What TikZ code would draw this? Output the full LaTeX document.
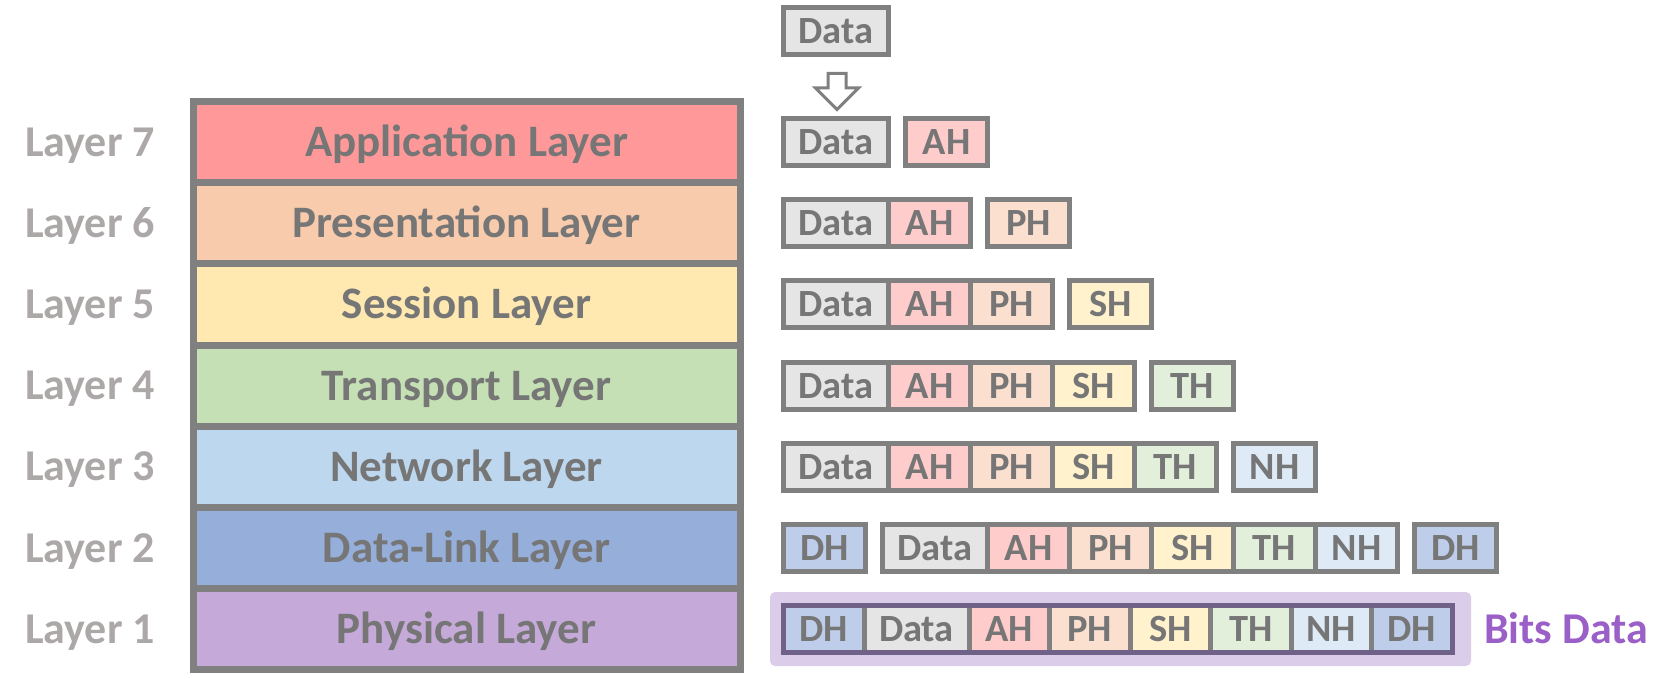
\documentclass[tikz,border=0pt]{standalone}
\usepackage{fontspec}
\setmainfont{Carlito}
\usetikzlibrary{shapes.arrows}
\definecolor{linegray}{RGB}{128,128,128}
\definecolor{txtgray}{RGB}{118,118,118}
\definecolor{lblgray}{RGB}{172,168,168}
\definecolor{cApp}{RGB}{255,153,153}
\definecolor{cPres}{RGB}{247,203,172}
\definecolor{cSess}{RGB}{255,233,176}
\definecolor{cTrans}{RGB}{197,224,180}
\definecolor{cNet}{RGB}{189,215,238}
\definecolor{cDL}{RGB}{150,174,218}
\definecolor{cPhys}{RGB}{197,169,216}
\definecolor{cData}{RGB}{229,229,229}
\definecolor{cAH}{RGB}{255,204,204}
\definecolor{cPH}{RGB}{251,224,208}
\definecolor{cSH}{RGB}{255,242,204}
\definecolor{cTH}{RGB}{226,239,218}
\definecolor{cNH}{RGB}{222,235,247}
\definecolor{cDH}{RGB}{190,205,234}
\definecolor{hlfill}{RGB}{219,205,233}
\definecolor{rowpurple}{RGB}{112,97,136}
\definecolor{bitspurple}{RGB}{155,95,200}
\begin{document}
\begin{tikzpicture}[x=1pt,y=-1pt,
  layer/.style={draw=linegray, line width=7pt, minimum width=547pt, minimum height=81.2pt,
    inner sep=0pt, text=txtgray, font=\fontsize{45}{50}\selectfont\bfseries, text height=29pt, text depth=0pt},
  lbl/.style={text=lblgray, font=\fontsize{44}{50}\selectfont\bfseries, inner sep=0pt, text height=28.3pt, text depth=0pt},
  pk/.style={draw=linegray, line width=5pt, minimum height=47pt, inner sep=0pt, outer sep=0pt, text=txtgray,
    font=\fontsize{38.5}{42}\selectfont\bfseries, anchor=west, text height=24.8pt, text depth=0pt},
  hd/.style={pk, minimum width=82pt},
  dt/.style={pk, minimum width=105pt, fill=cData},
  ah/.style={hd, fill=cAH}, ph/.style={hd, fill=cPH}, sh/.style={hd, fill=cSH},
  th/.style={hd, fill=cTH}, nh/.style={hd, fill=cNH}, dh/.style={hd, fill=cDH},
  narrow/.style={minimum width=80.5pt},
]
\useasboundingbox (0,0) rectangle (1672,679);

% OSI stack
\node[layer, fill=cApp]   (L7) at (466.5,142.0) {Application Layer};
\node[layer, fill=cPres]  (L6) at (466.5,223.2) {Presentation Layer};
\node[layer, fill=cSess]  (L5) at (466.5,304.4) {Session Layer};
\node[layer, fill=cTrans] (L4) at (466.5,385.6) {Transport Layer};
\node[layer, fill=cNet]   (L3) at (466.5,466.8) {Network Layer};
\node[layer, fill=cDL]    (L2) at (466.5,548.0) {Data-Link Layer};
\node[layer, fill=cPhys]  (L1) at (466.5,629.2) {Physical Layer};

\node[lbl] (n7) at (90,142.0) {Layer 7};
\node[lbl] (n6) at (90,223.2) {Layer 6};
\node[lbl] (n5) at (90,304.4) {Layer 5};
\node[lbl] (n4) at (90,385.6) {Layer 4};
\node[lbl] (n3) at (90,466.8) {Layer 3};
\node[lbl] (n2) at (90,548.0) {Layer 2};
\node[lbl] (n1) at (90,629.2) {Layer 1};

% top data and arrow
\node[dt] (d0) at (783.5,31) {Data};
\node[single arrow, draw=linegray, fill=white, line width=3pt, rotate=-90,
  minimum height=36pt, inner sep=7.5pt, single arrow head extend=12.5pt] (arr) at (837,87) {};

% row 7
\node[dt] (d7) at (783.5,142.0) {Data};
\node[ah] (a7) at ([xshift=17pt]d7.east) {AH};

% row 6
\node[dt] (d6) at (783.5,223.2) {Data};
\node[ah] (a6) at (d6.east) {AH};
\node[ph] (p6) at ([xshift=17pt]a6.east) {PH};

% row 5
\node[dt] (d5) at (783.5,304.4) {Data};
\node[ah] (a5) at (d5.east) {AH};
\node[ph] (p5) at (a5.east) {PH};
\node[sh] (s5) at ([xshift=17pt]p5.east) {SH};

% row 4
\node[dt] (d4) at (783.5,385.6) {Data};
\node[ah] (a4) at (d4.east) {AH};
\node[ph] (p4) at (a4.east) {PH};
\node[sh] (s4) at (p4.east) {SH};
\node[th] (t4) at ([xshift=17pt]s4.east) {TH};

% row 3
\node[dt] (d3) at (783.5,466.8) {Data};
\node[ah] (a3) at (d3.east) {AH};
\node[ph] (p3) at (a3.east) {PH};
\node[sh] (s3) at (p3.east) {SH};
\node[th] (t3) at (s3.east) {TH};
\node[nh] (h3) at ([xshift=17pt]t3.east) {NH};

% row 2
\node[dh] (x2) at (783.5,548.0) {DH};
\node[dt] (d2) at ([xshift=17pt]x2.east) {Data};
\node[ah] (a2) at (d2.east) {AH};
\node[ph] (p2) at (a2.east) {PH};
\node[sh] (s2) at (p2.east) {SH};
\node[th] (t2) at (s2.east) {TH};
\node[nh] (h2) at (t2.east) {NH};
\node[dh] (y2) at ([xshift=17pt]h2.east) {DH};

% highlight band (behind row 1)
\node[fill=hlfill, rounded corners=5pt, minimum width=701pt,
  minimum height=74pt, inner sep=0pt] (hl) at (1120.5,629) {};

% row 1
\node[dh, narrow] (x1) at (783.5,629.2) {DH};
\node[dt] (d1) at (x1.east) {Data};
\node[ah, narrow] (a1) at (d1.east) {AH};
\node[ph, narrow] (p1) at (a1.east) {PH};
\node[sh, narrow] (s1) at (p1.east) {SH};
\node[th, narrow] (t1) at (s1.east) {TH};
\node[nh, narrow] (h1) at (t1.east) {NH};
\node[dh, narrow] (y1) at (h1.east) {DH};
\draw[rowpurple, line width=5pt] (x1.north west) rectangle (y1.south east);

\node[text=bitspurple, font=\fontsize{44}{50}\selectfont\bfseries, inner sep=0pt, text height=28.3pt, text depth=0pt]
  (bits) at (1566,629) {Bits Data};
\end{tikzpicture}
\end{document}
